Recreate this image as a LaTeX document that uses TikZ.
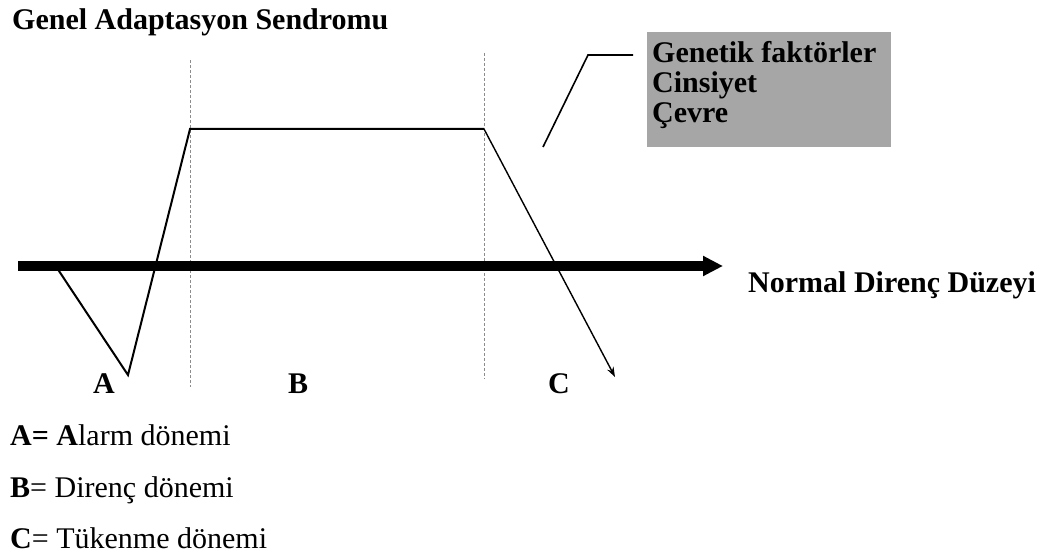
\documentclass[tikz,border=0pt]{standalone}
\usepackage{fontspec}
\setmainfont{Liberation Serif}
\definecolor{mygray}{HTML}{A6A6A6}
\definecolor{myguide}{HTML}{8C8C8C}
\usetikzlibrary{arrows.meta, positioning}
\tikzset{
	boldtext/.style={font=\fontsize{30}{30}\selectfont\bfseries, inner sep=0pt, anchor=base west}
}
\tikzset{
	plaintext/.style={font=\fontsize{30}{30}\selectfont, inner sep=0pt, anchor=base west}
}
\tikzset{
	guideline/.style={draw=myguide, line width=1pt, dash pattern=on 3pt off 2pt}
}
\tikzset{
	curveline/.style={line width=2pt, line join=miter}
}
\begin{document}
\begin{tikzpicture}[x=1pt, y=-1pt]
\useasboundingbox (0,0) rectangle (1048,556);

\coordinate (axS) at (18,266);
\coordinate (axE) at (723,266);
\coordinate (cA) at (57,268);
\coordinate (cB) at (128,375);
\coordinate (cC) at (190,129);
\coordinate (cD) at (484,129);
\coordinate (cE) at (615,377);
\coordinate (lA) at (543,147);
\coordinate (lB) at (588,55);
\coordinate (lC) at (633,55);

\node[boldtext] (title) at (12,30) {Genel Adaptasyon Sendromu};

% dashed phase borders
\draw[guideline] (190.5,60) -- (190.5,387);
\draw[guideline] (484,53) -- (484,379);

% normal level
\draw[line width=10pt, -{Triangle[length=20pt, width=19pt]}] (axS) -- (axE);
\node[boldtext] (normal) at (748,292) {Normal Direnç Düzeyi};

% curve
\draw[curveline] (cA) -- (cB) -- (cC) -- (cD);
\draw[line width=1.4pt, -{Stealth[length=10pt, width=7pt]}] (cD) -- (cE);

% factors box
\node[fill=mygray, anchor=north west, minimum width=244pt, minimum height=115pt, inner sep=0pt] (box) at (647,32) {};
\node[boldtext] (gen) at (652,63) {Genetik faktörler};
\node[boldtext] (cins) at (652,93) {Cinsiyet};
\node[boldtext] (cevre) at (652,123) {Çevre};
\draw[line width=1.6pt] (lA) -- (lB) -- (lC);

\node[boldtext] (labA) at (93,393) {A};
\node[boldtext] (labB) at (288,393) {B};
\node[boldtext] (labC) at (548,393) {C};

% legend
\node[plaintext] (legA) at (10,445) {\textbf{A= A}larm dönemi};
\node[plaintext] (legB) at (10,497) {\textbf{B}= Direnç dönemi};
\node[plaintext] (legC) at (10,548) {\textbf{C}= Tükenme dönemi};

\end{tikzpicture}
\end{document}
